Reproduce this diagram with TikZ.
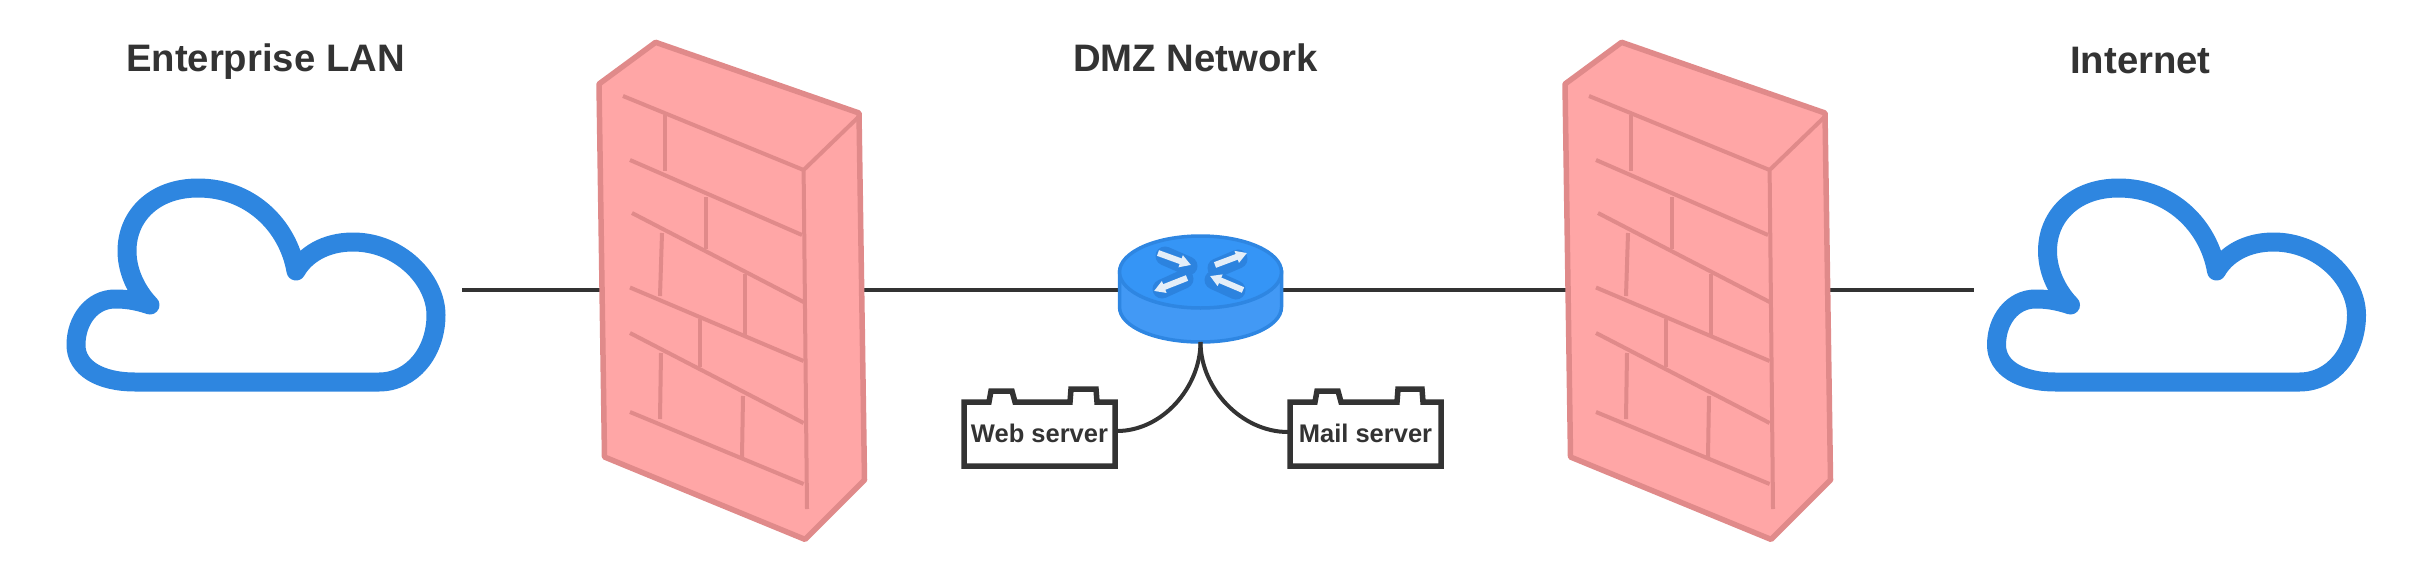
\documentclass[tikz,border=0pt]{standalone}
\usepackage{fontspec}
\setmainfont{Liberation Sans}
\usetikzlibrary{arrows.meta}
\definecolor{wallfill}{HTML}{FFA6A6}
\definecolor{wallline}{HTML}{E08A8A}
\definecolor{cloudblue}{HTML}{2E86E0}
\definecolor{ink}{HTML}{333333}
\definecolor{rtop}{HTML}{3595F6}
\definecolor{rside}{HTML}{4299F5}
\definecolor{redge}{HTML}{2E86E2}
\definecolor{rshade}{HTML}{2C83DF}
\definecolor{rarrow}{HTML}{E4EEF8}
\tikzset{
  wallbody/.style={draw=wallline,fill=wallfill,line width=5.5pt,line join=round},
  wallbrick/.style={draw=wallline,line width=4pt},
  cloudline/.style={draw=cloudblue,fill=white,line width=19pt,line join=round,line cap=round},
  link/.style={draw=ink,line width=4pt},
  title/.style={font=\bfseries\fontsize{38.3}{41}\selectfont,text=ink,anchor=base},
  srvlabel/.style={font=\bfseries\fontsize{25.5}{28}\selectfont,text=ink,anchor=base},
  srvbox/.style={draw=ink,fill=white,line width=5.5pt,line join=miter},
  port/.style={inner sep=0pt,minimum height=2pt},
  rshadow/.style={draw=rshade,line width=19pt,line cap=round},
  rarrowtip/.style={draw=rarrow,line width=6pt,-{Triangle[length=11pt,width=12pt]}},
}
\newcommand{\wallshape}{%
  \path[wallbody] (655.6,42.3) -- (859,113) -- (864.5,480) -- (805,539.4) -- (604.5,457) -- (599,84) -- cycle;
  \path[wallbrick] (859,116.5) -- (803.6,170) -- (807,509);
  \path[wallbrick] (623,96) -- (803.6,170);
  \path[wallbrick] (630,160) -- (802,235);
  \path[wallbrick] (632,213) -- (803.6,302);
  \path[wallbrick] (630,287.5) -- (803.6,361);
  \path[wallbrick] (630,333) -- (803.6,423);
  \path[wallbrick] (630,412) -- (803.6,484);
  \path[wallbrick] (665,115) -- (665,171);
  \path[wallbrick] (706,197) -- (706,249);
  \path[wallbrick] (662,233) -- (660,296);
  \path[wallbrick] (744.5,274) -- (744.5,335);
  \path[wallbrick] (700,319) -- (700,367);
  \path[wallbrick] (661,353) -- (660,419);
  \path[wallbrick] (743,396) -- (742,457);
}
\newcommand{\cloudshape}{%
  \path[cloudline] (150,305) .. controls (135,300) and (125,299) .. (115,299)
    .. controls (92,299) and (76,320) .. (76,345)
    .. controls (76,368) and (100,382) .. (135,382) -- (379,382)
    .. controls (412,382) and (436,352) .. (436,315)
    .. controls (436,280) and (400,242) .. (353,242)
    .. controls (325,242) and (305,255) .. (296,271)
    .. controls (288,225) and (250,188) .. (198,188)
    .. controls (155,188) and (127,215) .. (127,251)
    .. controls (127,275) and (140,295) .. (150,305);
}
\begin{document}
\begin{tikzpicture}[x=1pt,y=-1pt]
\useasboundingbox (0,0) rectangle (2418,562);
\coordinate (lanport) at (462,290);
\coordinate (netport) at (1974,290);
\node[port,minimum width=260pt] (fwa) at (730,290) {};
\node[port,minimum width=260pt] (fwb) at (1696,290) {};
\node[port,minimum width=162pt] (router) at (1200.5,290) {};
\coordinate (routerfoot) at (1200.5,342);
\draw[link] (lanport) -- (fwa.west);
\draw[link] (fwa.east) -- (router.west);
\draw[link] (router.east) -- (fwb.west);
\draw[link] (fwb.east) -- (netport);
\cloudshape
\begin{scope}[xshift=1920.5pt]\cloudshape\end{scope}
\wallshape
\begin{scope}[xshift=966pt]\wallshape\end{scope}
\node[title] (lan) at (265.5,71) {Enterprise LAN};
\node[title] (dmz) at (1195.5,71) {DMZ Network};
\node[title] (net) at (2140.5,73) {Internet};
% router
\path[fill=rside,draw=redge,line width=3.5pt] (1119.5,272) -- (1119.5,307)
  .. controls (1119.5,327) and (1156,342) .. (1200.5,342)
  .. controls (1245,342) and (1281.5,327) .. (1281.5,307) -- (1281.5,272) -- cycle;
\path[fill=rtop,draw=redge,line width=3.5pt] (1200.5,272) ellipse [x radius=81,y radius=36];
\path[rshadow] (1165,256) -- (1188,266);
\path[rshadow] (1217,268) -- (1238,259);
\path[rshadow] (1184,279) -- (1162,289);
\path[rshadow] (1236,290) -- (1214,280);
\path[rarrowtip] (1158,253) -- (1191,265);
\path[rarrowtip] (1215,265) -- (1247,253);
\path[rarrowtip] (1187,278) -- (1154,291);
\path[rarrowtip] (1243,290) -- (1210,276);
% servers
\path[srvbox] (964,402) -- (989,402) -- (991,391) -- (1012,391) -- (1015,402) -- (1070,402)
  -- (1071,389) -- (1096,389) -- (1097,402) -- (1115,402) -- (1115,466) -- (964,466) -- cycle;
\path[srvbox] (1290,402) -- (1315,402) -- (1317,391) -- (1338,391) -- (1341,402) -- (1397,402)
  -- (1398,389) -- (1422,389) -- (1423,402) -- (1441,402) -- (1441,466) -- (1290,466) -- cycle;
\node[srvlabel] (web) at (1039.5,442) {Web server};
\node[srvlabel] (mail) at (1365.5,442) {Mail server};
\coordinate (webport) at (1117,431);
\coordinate (mailport) at (1288,432);
\draw[link] (routerfoot) to[out=-90,in=0,looseness=0.95] (webport);
\draw[link] (routerfoot) to[out=-90,in=180,looseness=0.95] (mailport);
\end{tikzpicture}
\end{document}
